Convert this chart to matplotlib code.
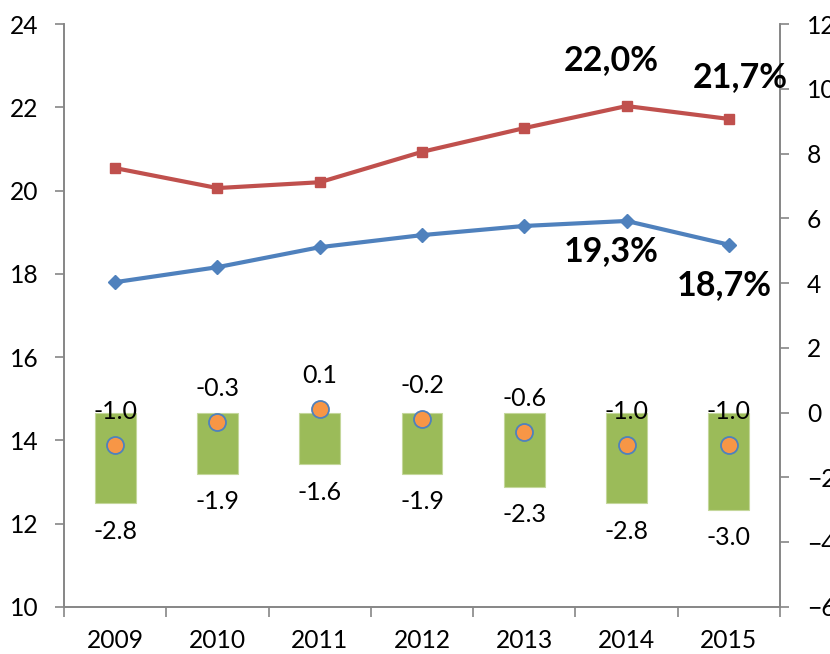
import matplotlib.pyplot as plt
import numpy as np

years = ["2009", "2010", "2011", "2012", "2013", "2014", "2015"]
red_line = [20.54, 20.06, 20.2, 20.93, 21.5, 22.03, 21.72]
blue_line = [17.8, 18.16, 18.64, 18.93, 19.15, 19.27, 18.7]
bar_min = [-2.8, -1.9, -1.6, -1.9, -2.3, -2.8, -3.0]
dot_vals = [-1.0, -0.3, 0.1, -0.2, -0.6, -1.0, -1.0]

plt.rcParams['font.family'] = ['Lato', 'DejaVu Sans']

fig = plt.figure(figsize=(8.3, 6.54), dpi=100)
ax = fig.add_axes([0.0771, 0.0719, 0.8627, 0.8914])
ax2 = ax.twinx()
ax.set_zorder(ax2.get_zorder() + 1)
ax.patch.set_visible(False)

x = np.arange(len(years))
grey = "#868686"

# bars + dots on the right axis
ax2.bar(x, bar_min, width=0.4, color="#9BBB59", edgecolor="#C4D79B", linewidth=0.8)
ax2.scatter(x, dot_vals, s=150, color="#F79646", edgecolor="#4F81BD", linewidth=1.3, zorder=3)
for i in range(len(x)):
    ax2.annotate(f"{dot_vals[i]:.1f}", (x[i], dot_vals[i]), xytext=(0, 24.5),
                 textcoords="offset points", ha="center", va="center", fontsize=18)
    ax2.annotate(f"{bar_min[i]:.1f}", (x[i], bar_min[i]), xytext=(0, -20),
                 textcoords="offset points", ha="center", va="center", fontsize=18)

# lines on the left axis
ax.plot(x, red_line, color="#C0504D", lw=3, marker="s", ms=7.5, zorder=3)
ax.plot(x, blue_line, color="#4F81BD", lw=3, marker="D", ms=7, zorder=3)

bold = dict(fontsize=24.5, fontweight="bold", ha="center", va="center", textcoords="offset points")
ax.annotate("22,0%", (x[5], red_line[5]), xytext=(-11, 33), **bold)
ax.annotate("21,7%", (x[6], red_line[6]), xytext=(8, 30), **bold)
ax.annotate("19,3%", (x[5], blue_line[5]), xytext=(-11, -22), **bold)
ax.annotate("18,7%", (x[6], blue_line[6]), xytext=(-3, -29), **bold)

ax.set_xlim(-0.5, 6.5)
ax.set_ylim(10, 24)
ax.set_yticks(np.arange(10, 25, 2))
ax2.set_ylim(-6, 12)
ax2.set_yticks(np.arange(-6, 13, 2))

ax.set_xticks(x)
ax.set_xticklabels(years)
ax.set_xticks(np.arange(-0.5, 7, 1), minor=True)
ax.tick_params(axis="x", which="major", length=0, pad=16, labelsize=17.7)
ax.tick_params(axis="x", which="minor", length=7, color=grey, width=1.2)
ax.tick_params(axis="y", length=6.5, color=grey, width=1.2, pad=12, labelsize=17.7)
ax2.tick_params(axis="y", length=6.5, color=grey, width=1.2, pad=13, labelsize=17.7)

for a in (ax, ax2):
    for s in a.spines.values():
        s.set_color(grey)
        s.set_linewidth(1.2)
    a.spines["top"].set_visible(False)

fig.savefig("out.png", dpi=100)
